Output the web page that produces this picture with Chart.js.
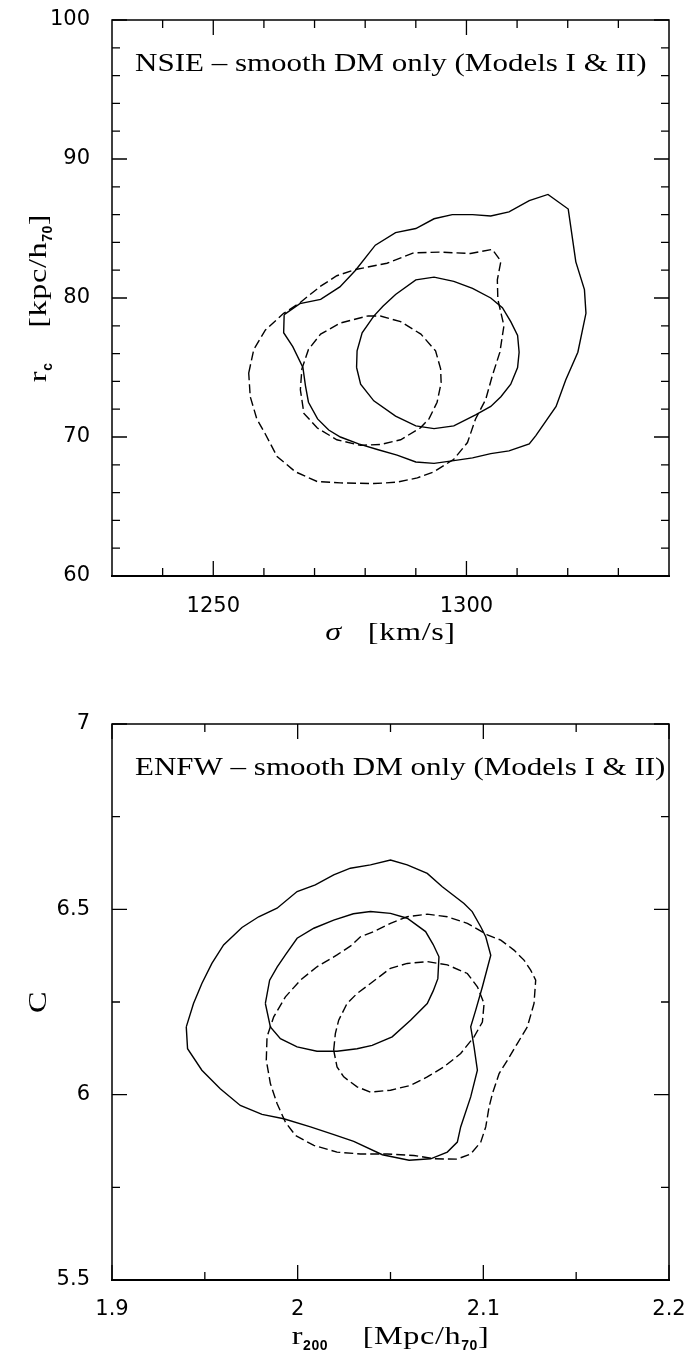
<!DOCTYPE html>
<html>
<head>
<meta charset="utf-8">
<script src="https://cdn.jsdelivr.net/npm/chart.js@4.4.1/dist/chart.umd.min.js"></script>
<style>
  html, body { margin: 0; padding: 0; background: #fff; }
  #wrap { width: 688px; height: 1352px; }
  canvas { display: block; }
</style>
</head>
<body>
<div id="wrap">
  <canvas id="nsie" width="688" height="676"></canvas>
  <canvas id="enfw" width="688" height="676"></canvas>
</div>
<script>
// NSIE panel: sigma [km/s] vs core radius r_c [kpc/h70]
const nsieXMajor = [1250, 1300];
const nsieXMinor = [1240, 1260, 1270, 1280, 1290, 1310, 1320, 1330];
const nsieYMajor = [60, 70, 80, 90, 100];
const nsieYMinor = [62, 64, 66, 68, 72, 74, 76, 78, 82, 84, 86, 88, 92, 94, 96, 98];

const nsieOuterSolid = [
  [1264.0,78.8],[1267.1,79.6],[1271.2,79.9],[1275.0,80.8],[1278.1,82.0],[1282.0,83.8],
  [1286.0,84.7],[1290.0,85.0],[1293.6,85.7],[1297.2,86.0],[1301.2,86.0],[1304.8,85.9],
  [1308.4,86.2],[1312.4,87.0],[1316.1,87.45],[1320.1,86.4],[1321.6,82.6],[1323.3,80.6],
  [1323.6,78.9],[1322.0,76.1],[1319.6,74.1],[1317.7,72.2],[1313.7,70.1],[1312.4,69.5],
  [1308.4,69.0],[1304.8,68.8],[1301.2,68.5],[1297.5,68.3],[1293.6,68.1],[1290.0,68.2],
  [1286.3,68.7],[1282.4,69.1],[1278.7,69.5],[1275.1,70.0],[1272.8,70.5],[1270.6,71.3],
  [1268.8,72.5],[1268.2,73.7],[1267.7,75.0],[1265.7,76.5],[1263.9,77.5],[1264.0,78.8]
];
const nsieInnerSolid = [
  [1278.3,75.0],[1278.4,76.2],[1279.4,77.5],[1281.7,78.7],[1283.5,79.4],[1286.0,80.25],
  [1290.0,81.3],[1293.6,81.5],[1297.5,81.2],[1301.2,80.7],[1304.8,80.0],[1307.1,79.3],
  [1308.75,78.3],[1310.1,77.3],[1310.4,76.1],[1310.1,75.0],[1308.75,73.8],[1306.8,72.9],
  [1304.8,72.2],[1301.8,71.6],[1297.5,70.8],[1293.6,70.6],[1290.0,70.8],[1286.0,71.5],
  [1281.7,72.6],[1279.1,73.8],[1278.3,75.0]
];
const nsieOuterDashed = [
  [1257.0,74.6],[1258.0,76.3],[1260.3,77.7],[1263.9,78.9],[1266.9,79.6],[1271.2,80.85],
  [1274.4,81.6],[1278.1,82.05],[1284.3,82.5],[1289.6,83.25],[1294.9,83.3],[1300.8,83.2],
  [1305.1,83.5],[1306.8,82.65],[1306.1,81.3],[1306.2,79.9],[1307.4,78.0],[1306.6,76.1],
  [1305.1,74.4],[1303.8,72.7],[1301.8,71.3],[1300.2,69.6],[1297.5,68.4],[1293.6,67.5],
  [1290.3,67.06],[1286.3,66.75],[1281.7,66.65],[1275.1,66.7],[1270.5,66.8],[1266.2,67.5],
  [1262.6,68.6],[1260.3,70.2],[1258.6,71.3],[1257.3,72.9],[1257.0,74.6]
];
const nsieInnerDashed = [
  [1280.4,78.7],[1283.0,78.7],[1287.0,78.3],[1291.0,77.4],[1293.9,76.2],[1294.9,74.9],
  [1295.0,73.9],[1294.2,72.5],[1292.6,71.3],[1290.9,70.66],[1287.0,69.8],[1283.0,69.46],
  [1279.1,69.4],[1274.4,69.8],[1270.5,70.66],[1267.9,71.7],[1267.2,73.4],[1267.5,74.9],
  [1268.8,76.3],[1271.2,77.4],[1275.1,78.2],[1280.4,78.7]
];

// ENFW panel: r200 [Mpc/h70] vs concentration C
const enfwXMajor = [1.9, 2, 2.1, 2.2];
const enfwXMinor = [1.95, 2.05, 2.15];
const enfwYMajor = [5.5, 6, 6.5, 7];
const enfwYMinor = [5.75, 6.25, 6.75];

const enfwOuterSolid = [
  [1.9400,6.183],[1.9439,6.246],[1.9484,6.300],[1.9538,6.354],[1.9601,6.404],[1.9700,6.451],
  [1.9790,6.480],[1.9889,6.503],[1.9997,6.548],[2.0095,6.566],[2.0194,6.593],[2.0284,6.611],
  [2.0392,6.620],[2.0500,6.633],[2.0590,6.620],[2.0698,6.597],[2.0779,6.561],[2.0896,6.516],
  [2.0940,6.494],[2.0986,6.453],[2.1013,6.426],[2.1040,6.376],[2.0995,6.291],[2.0959,6.228],
  [2.0932,6.183],[2.0950,6.129],[2.0968,6.066],[2.0932,5.994],[2.0878,5.913],[2.0860,5.872],
  [2.0806,5.845],[2.0716,5.827],[2.0600,5.823],[2.0456,5.838],[2.0302,5.874],[2.0195,5.892],
  [2.0069,5.913],[1.9925,5.935],[1.9808,5.947],[1.9691,5.971],[1.9583,6.016],[1.9484,6.066],
  [1.9407,6.124],[1.9400,6.183]
];
const enfwInnerSolid = [
  [1.9826,6.246],[1.9849,6.309],[1.9890,6.345],[1.9934,6.377],[1.9997,6.422],[2.0087,6.449],
  [2.0194,6.471],[2.0300,6.488],[2.0392,6.494],[2.0500,6.489],[2.0590,6.476],[2.0689,6.440],
  [2.0730,6.405],[2.0761,6.372],[2.0755,6.313],[2.0730,6.280],[2.0698,6.246],[2.0608,6.201],
  [2.0509,6.156],[2.0401,6.133],[2.0320,6.124],[2.0212,6.117],[2.0104,6.117],[1.9997,6.129],
  [1.9907,6.151],[1.9853,6.183],[1.9826,6.246]
];
const enfwOuterDashed = [
  [1.9831,6.093],[1.9835,6.156],[1.9871,6.210],[1.9934,6.264],[2.0015,6.309],[2.0104,6.345],
  [2.0212,6.377],[2.0293,6.404],[2.0338,6.426],[2.0410,6.440],[2.0500,6.462],[2.0590,6.480],
  [2.0698,6.487],[2.0806,6.480],[2.0914,6.462],[2.1022,6.431],[2.1094,6.417],[2.1165,6.390],
  [2.1219,6.363],[2.1255,6.336],[2.1282,6.309],[2.1273,6.246],[2.1237,6.183],[2.1183,6.138],
  [2.1130,6.093],[2.1085,6.057],[2.1049,6.003],[2.1031,5.967],[2.1013,5.913],[2.0986,5.872],
  [2.0932,5.840],[2.0858,5.826],[2.0734,5.827],[2.0626,5.836],[2.0482,5.840],[2.0338,5.840],
  [2.0212,5.845],[2.0087,5.863],[1.9988,5.890],[1.9934,5.926],[1.9889,5.976],[1.9853,6.030],
  [1.9831,6.093]
];
const enfwInnerDashed = [
  [2.0194,6.120],[2.0203,6.165],[2.0221,6.201],[2.0266,6.246],[2.0320,6.273],[2.0392,6.300],
  [2.0500,6.341],[2.0590,6.354],[2.0698,6.359],[2.0806,6.350],[2.0914,6.327],[2.0968,6.291],
  [2.1004,6.246],[2.0995,6.196],[2.0950,6.156],[2.0878,6.111],[2.0788,6.075],[2.0698,6.048],
  [2.0608,6.025],[2.0500,6.012],[2.0392,6.007],[2.0320,6.021],[2.0248,6.048],[2.0212,6.075],
  [2.0194,6.120]
];

const SERIF = '"Liberation Serif", "Times New Roman", serif';
const SANS = '"DejaVu Sans", sans-serif';
const STRETCH = 1.24;   // the serif labels are set wide

// draws a run of text segments (plain / italic / subscript) centred on x, one baseline
function richText(ctx, segs, x, y) {
  const setFont = s => {
    ctx.letterSpacing = '0.5px';
    ctx.font = s.sub ? 'bold 14px "Liberation Sans", sans-serif'
                     : (s.italic ? 'italic ' : '') + '26px ' + SERIF;
  };
  const k = s => (s.sub ? 1 : STRETCH);
  let w = 0;
  segs.forEach(s => { setFont(s); w += ctx.measureText(s.t).width * k(s); });
  let cx = x - w / 2;
  ctx.textAlign = 'left';
  ctx.textBaseline = 'alphabetic';
  segs.forEach(s => {
    setFont(s);
    ctx.save();
    ctx.translate(cx, y + (s.sub ? 6 : 0));
    ctx.scale(k(s), 1);
    ctx.fillText(s.t, 0, 0);
    ctx.restore();
    cx += ctx.measureText(s.t).width * k(s);
  });
}

// box frame with inward ticks on all four sides, plus the titles and the panel note
const boxFrame = {
  id: 'boxFrame',
  afterDatasetsDraw(chart, args, o) {
    const { ctx, chartArea: a, scales: { x, y } } = chart;
    ctx.save();
    ctx.strokeStyle = '#000';
    ctx.fillStyle = '#000';
    ctx.lineWidth = 1.3;
    ctx.beginPath();
    const xt = (vals, len) => vals.forEach(v => {
      const p = x.getPixelForValue(v);
      ctx.moveTo(p, a.bottom); ctx.lineTo(p, a.bottom - len);
      ctx.moveTo(p, a.top); ctx.lineTo(p, a.top + len);
    });
    const yt = (vals, len) => vals.forEach(v => {
      const p = y.getPixelForValue(v);
      ctx.moveTo(a.left, p); ctx.lineTo(a.left + len, p);
      ctx.moveTo(a.right, p); ctx.lineTo(a.right - len, p);
    });
    xt(o.xMajor, 15); xt(o.xMinor, 8);
    yt(o.yMajor, 15); yt(o.yMinor, 8);
    ctx.stroke();

    ctx.lineWidth = 1.5;
    ctx.strokeRect(a.left, a.top, a.right - a.left, a.bottom - a.top);
    ctx.lineWidth = 2.2;
    ctx.beginPath();
    ctx.moveTo(a.left - 1, a.bottom); ctx.lineTo(a.right + 1, a.bottom);
    ctx.stroke();

    // panel note
    ctx.font = '25px ' + SERIF;
    ctx.letterSpacing = '0px';
    ctx.textAlign = 'left';
    ctx.textBaseline = 'alphabetic';
    ctx.save();
    ctx.translate(a.left + 23, a.top + 51);
    ctx.scale(STRETCH, 1);
    ctx.fillText(o.note, 0, 0);
    ctx.restore();

    // x title
    richText(ctx, o.xTitle, (a.left + a.right) / 2, a.bottom + 64);

    // y title, rotated
    ctx.save();
    ctx.translate(46, (a.top + a.bottom) / 2);
    ctx.rotate(-Math.PI / 2);
    richText(ctx, o.yTitle, 0, 0);
    ctx.restore();

    ctx.restore();
  }
};

function contourSet(list) {
  return list.map(c => ({
    data: c.pts.map(p => ({ x: p[0], y: p[1] })),
    showLine: true,
    borderColor: '#000',
    borderWidth: 1.4,
    borderDash: c.dashed ? [9, 4] : [],
    pointRadius: 0,
    pointHoverRadius: 0,
    fill: false,
    tension: 0
  }));
}

function panel(id, cfg) {
  return new Chart(document.getElementById(id), {
    type: 'scatter',
    data: { datasets: contourSet(cfg.contours) },
    options: {
      responsive: false,
      animation: false,
      devicePixelRatio: 1,
      layout: { padding: { top: cfg.padTop, right: 19, left: 0, bottom: 0 } },
      plugins: {
        legend: { display: false },
        tooltip: { enabled: false },
        boxFrame: cfg.frame
      },
      scales: {
        x: {
          type: 'linear', min: cfg.xMin, max: cfg.xMax,
          grid: { display: false }, border: { display: false },
          afterBuildTicks: s => { s.ticks = cfg.frame.xMajor.map(v => ({ value: v })); },
          afterFit: s => { s.height = cfg.xHeight; s.paddingLeft = 0; s.paddingRight = 0; },
          ticks: {
            padding: cfg.xPad, color: '#000', maxRotation: 0, autoSkip: false,
            font: { family: SANS, size: 21 },
            callback: v => String(v)
          }
        },
        y: {
          type: 'linear', min: cfg.yMin, max: cfg.yMax,
          grid: { display: false }, border: { display: false },
          afterBuildTicks: s => { s.ticks = cfg.frame.yMajor.map(v => ({ value: v })); },
          afterFit: s => { s.width = 112; s.paddingTop = 0; s.paddingBottom = 0; },
          ticks: {
            padding: 14, color: '#000', autoSkip: false,
            font: { family: SANS, size: 21 },
            callback: v => String(v)
          }
        }
      }
    },
    plugins: [boxFrame]
  });
}

panel('nsie', {
  xMin: 1230, xMax: 1340, yMin: 60, yMax: 100,
  padTop: 20, xHeight: 100, xPad: 10,
  contours: [
    { pts: nsieOuterSolid }, { pts: nsieInnerSolid },
    { pts: nsieOuterDashed, dashed: true }, { pts: nsieInnerDashed, dashed: true }
  ],
  frame: {
    xMajor: nsieXMajor, xMinor: nsieXMinor, yMajor: nsieYMajor, yMinor: nsieYMinor,
    note: 'NSIE – smooth DM only (Models I & II)',
    xTitle: [{ t: 'σ', italic: true }, { t: '   [km/s]' }],
    yTitle: [{ t: 'r' }, { t: 'c', sub: true }, { t: '    [kpc/h' }, { t: '70', sub: true }, { t: ']' }]
  }
});

panel('enfw', {
  xMin: 1.9, xMax: 2.2, yMin: 5.5, yMax: 7,
  padTop: 48, xHeight: 72, xPad: 9,
  contours: [
    { pts: enfwOuterSolid }, { pts: enfwInnerSolid },
    { pts: enfwOuterDashed, dashed: true }, { pts: enfwInnerDashed, dashed: true }
  ],
  frame: {
    xMajor: enfwXMajor, xMinor: enfwXMinor, yMajor: enfwYMajor, yMinor: enfwYMinor,
    note: 'ENFW – smooth DM only (Models I & II)',
    xTitle: [{ t: 'r' }, { t: '200', sub: true }, { t: '    [Mpc/h' }, { t: '70', sub: true }, { t: ']' }],
    yTitle: [{ t: 'C' }]
  }
});
</script>
</body>
</html>
